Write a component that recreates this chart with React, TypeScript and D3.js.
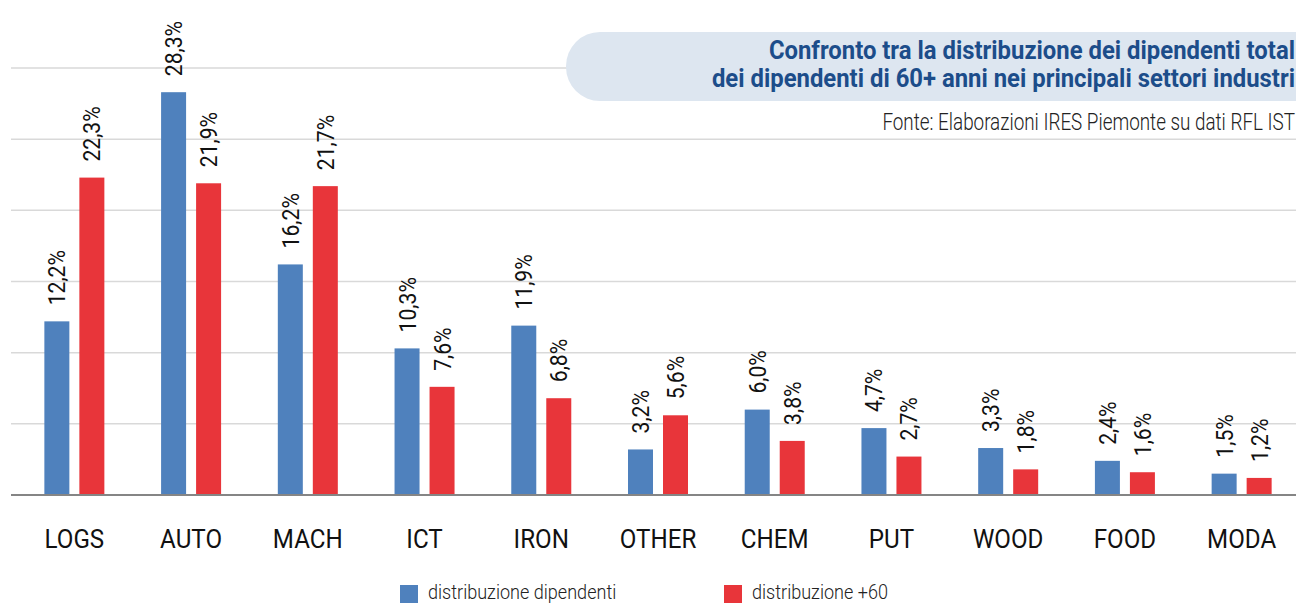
import React from "react";
import * as d3 from "d3";

const categories = ["LOGS", "AUTO", "MACH", "ICT", "IRON", "OTHER", "CHEM", "PUT", "WOOD", "FOOD", "MODA"];
const totalValues = [12.2, 28.3, 16.2, 10.3, 11.9, 3.2, 6.0, 4.7, 3.3, 2.4, 1.5];
const over60Values = [22.3, 21.9, 21.7, 7.6, 6.8, 5.6, 3.8, 2.7, 1.8, 1.6, 1.2];
const seriesNames = ["distribuzione dipendenti", "distribuzione +60"];
const seriesColors = ["#4f81bd", "#e8353a"];
const yTicks = [5, 10, 15, 20, 25, 30];
const titleLines = [
  "Confronto tra la distribuzione dei dipendenti total",
  "dei dipendenti di 60+ anni nei principali settori industri",
];
const sourceText = "Fonte: Elaborazioni IRES Piemonte su dati RFL IST";

const W = 1296;
const H = 605;
const FONT = "Roboto, 'Noto Sans', sans-serif";

const fmt = (v: number) => v.toFixed(1).replace(".", ",") + "%";

// testo "condensato": Roboto schiacciato in orizzontale
const Cond = ({ x, y, sx, rot = 0, children, ...rest }: any) => (
  <text transform={`translate(${x},${y}) rotate(${rot}) scale(${sx},1)`} {...rest}>
    {children}
  </text>
);

export default function App() {
  const x0 = d3.scaleBand<string>().domain(categories).range([16, 1300]).padding(0);
  const x1 = d3.scaleBand<number>().domain([0, 1]).range([0, 60]).paddingInner(0.2857).paddingOuter(0);
  const y = d3.scaleLinear().domain([0, 30]).range([495, 68]);

  const rows = categories.map((c, i) => ({ c, vals: [totalValues[i], over60Values[i]] }));

  return (
    <svg width={W} height={H} style={{ position: "absolute", left: 0, top: 0, fontFamily: FONT }}>
      <rect width={W} height={H} fill="#fff" />
      {yTicks.map((t) => (
        <line key={t} x1={11} x2={W} y1={y(t)} y2={y(t)} stroke="#d9d9d9" strokeWidth={1.5} />
      ))}

      {/* titolo */}
      <rect x={566} y={32} width={800} height={69} rx={34} fill="#dde6f0" />
      {titleLines.map((t, i) => (
        <Cond key={i} x={1295} y={59 + i * 28} sx={0.955} textAnchor="end" fontSize={25} fontWeight="bold" fill="#1c4d8a">
          {t}
        </Cond>
      ))}
      <Cond x={1295} y={130} sx={0.82} textAnchor="end" fontSize={23} fontWeight={300} fill="#222">
        {sourceText}
      </Cond>

      {rows.map((r) => {
        const cx = x0(r.c)! + x0.bandwidth() / 2;
        return (
          <g key={r.c} transform={`translate(${cx - 30},0)`}>
            {r.vals.map((v, si) => {
              const bx = x1(si)!;
              const tx = bx + x1.bandwidth() / 2;
              const ty = y(v) - 16;
              return (
                <g key={si}>
                  <rect x={bx} y={y(v)} width={x1.bandwidth()} height={y(0) - y(v)} fill={seriesColors[si]} />
                  <Cond x={tx} y={ty} rot={-90} sx={0.9} dy="0.36em" fontSize={23.5} fill="#111">
                    {fmt(v)}
                  </Cond>
                </g>
              );
            })}
          </g>
        );
      })}

      <line x1={11} x2={W} y1={y(0)} y2={y(0)} stroke="#858585" strokeWidth={2} />

      {categories.map((c) => (
        <Cond key={c} x={x0(c)! + x0.bandwidth() / 2} y={548} sx={0.93} textAnchor="middle" fontSize={26} fill="#111">
          {c}
        </Cond>
      ))}

      {seriesNames.map((s, i) => (
        <g key={s} transform={`translate(${400 + i * 324},585)`}>
          <rect width={18} height={18} fill={seriesColors[i]} />
          <Cond x={28} y={13.5} sx={0.86} fontSize={21} fontWeight={300} fill="#222">
            {s}
          </Cond>
        </g>
      ))}
    </svg>
  );
}
